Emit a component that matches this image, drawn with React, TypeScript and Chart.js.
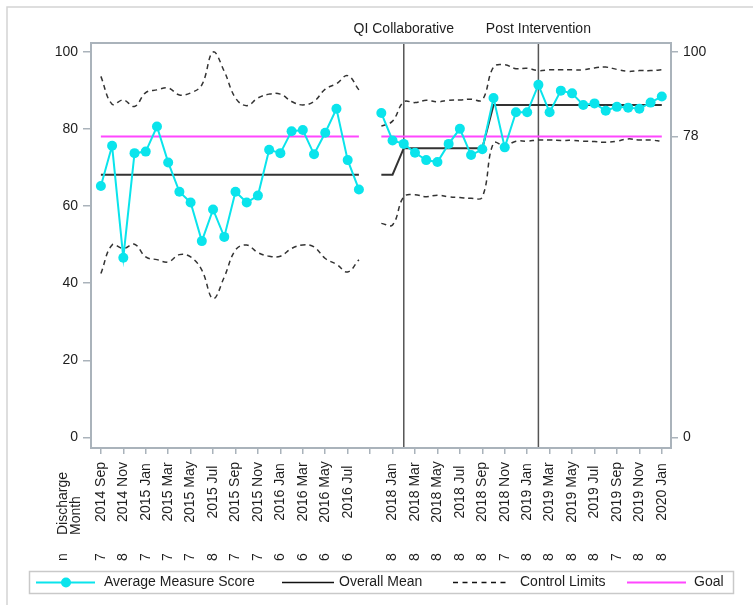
import { useEffect, useRef } from 'react';
import { Chart, registerables } from 'chart.js';

Chart.register(...registerables);

// ---------- data ----------
const categories: string[] = [
  '2014 Sep', '2014 Oct', '2014 Nov', '2014 Dec', '2015 Jan', '2015 Feb', '2015 Mar', '2015 Apr',
  '2015 May', '2015 Jun', '2015 Jul', '2015 Aug', '2015 Sep', '2015 Oct', '2015 Nov', '2015 Dec',
  '2016 Jan', '2016 Feb', '2016 Mar', '2016 Apr', '2016 May', '2016 Jun', '2016 Jul', '2016 Aug',
  '',
  '2017 Dec', '2018 Jan', '2018 Feb', '2018 Mar', '2018 Apr', '2018 May', '2018 Jun', '2018 Jul',
  '2018 Aug', '2018 Sep', '2018 Oct', '2018 Nov', '2018 Dec', '2019 Jan', '2019 Feb', '2019 Mar',
  '2019 Apr', '2019 May', '2019 Jun', '2019 Jul', '2019 Aug', '2019 Sep', '2019 Oct', '2019 Nov',
  '2019 Dec', '2020 Jan',
];

// n shown under every labelled (even-index) category
const nCounts: (number | null)[] = [
  7, 8, 7, 7, 7, 8, 7, 7, 6, 6, 6, 6,
  null,
  8, 8, 8, 8, 8, 7, 8, 8, 8, 8, 7, 8, 8,
];

const averageScore: (number | null)[] = [
  65.2, 75.6, 46.6, 73.7, 74.1, 80.6, 71.3, 63.7, 60.9, 50.9, 59.1, 52.0,
  63.7, 60.9, 62.7, 74.6, 73.7, 79.4, 79.7, 73.4, 79.0, 85.2, 71.9, 64.3,
  null,
  84.1, 77.0, 76.1, 73.8, 71.9, 71.4, 76.1, 80.0, 73.2, 74.7, 88.0, 75.2, 84.3,
  84.3, 91.4, 84.3, 89.9, 89.2, 86.2, 86.6, 84.7, 85.7, 85.5, 85.2, 86.8, 88.4,
];

const overallMean: (number | null)[] = [
  68.1, 68.1, 68.1, 68.1, 68.1, 68.1, 68.1, 68.1, 68.1, 68.1, 68.1, 68.1,
  68.1, 68.1, 68.1, 68.1, 68.1, 68.1, 68.1, 68.1, 68.1, 68.1, 68.1, 68.1,
  null,
  68.1, 68.1, 75.0, 75.0, 75.0, 75.0, 75.0, 75.0, 75.0, 75.0, 86.2, 86.2, 86.2,
  86.2, 86.2, 86.2, 86.2, 86.2, 86.2, 86.2, 86.2, 86.2, 86.2, 86.2, 86.2, 86.2,
];

const upperLimit: (number | null)[] = [
  93.6, 86.4, 87.5, 85.8, 89.4, 90.1, 90.6, 88.8, 89.3, 91.4, 99.9, 94.9,
  88.0, 86.0, 88.0, 89.0, 89.0, 87.1, 86.2, 87.1, 90.3, 91.7, 93.8, 90.1,
  null,
  80.7, 82.0, 87.0, 86.8, 87.4, 87.0, 87.4, 87.5, 87.7, 87.5, 96.0, 96.6, 95.6,
  95.7, 95.1, 95.3, 95.3, 95.3, 95.3, 95.8, 96.0, 95.4, 94.9, 95.1, 95.1, 95.3,
];

const lowerLimit: (number | null)[] = [
  42.5, 49.9, 49.0, 50.1, 46.8, 46.1, 45.5, 47.4, 46.8, 43.4, 36.0, 41.6,
  48.6, 49.9, 47.9, 47.0, 47.0, 49.0, 49.9, 49.4, 46.4, 44.9, 42.9, 46.1,
  null,
  55.5, 55.1, 62.4, 62.9, 62.4, 62.8, 62.4, 62.2, 62.0, 62.3, 76.3, 75.6, 76.8,
  76.8, 77.1, 77.1, 77.0, 77.0, 76.8, 76.7, 76.5, 76.8, 77.4, 77.1, 77.1, 76.8,
];

const goalValue = 78;
const goal: (number | null)[] = categories.map((c) => (c === '' ? null : goalValue));

const leftTicks = [0, 20, 40, 60, 80, 100];
const rightTicks = [0, 78, 100];

const phaseLines = [
  { label: 'QI Collaborative', index: 27 },
  { label: 'Post Intervention', index: 39 },
];

// ---------- styles ----------
const FONT = '"Liberation Sans", Arial, Helvetica, sans-serif';
const TEXT = '#1e1e1e';
const AXIS = '#aab3bb';
const CYAN = '#0ae4ec';
const MAGENTA = '#ff47ff';
const DARK = '#333333';

const toPoints = (arr: (number | null)[]) => arr.map((v, i) => ({ x: i, y: v }));

const overlayPlugin = {
  id: 'overlay',
  beforeDatasetsDraw(chart: any) {
    const { ctx, chartArea: a, scales } = chart;
    const x = scales.x;
    ctx.save();
    ctx.strokeStyle = '#555555';
    ctx.lineWidth = 1.5;
    phaseLines.forEach((p) => {
      const px = x.getPixelForValue(p.index);
      ctx.beginPath();
      ctx.moveTo(px, a.top);
      ctx.lineTo(px, a.bottom);
      ctx.stroke();
    });
    ctx.restore();
  },
  afterDraw(chart: any) {
    const { ctx, chartArea: a, scales } = chart;
    const x = scales.x;
    ctx.save();
    // outer figure frame
    ctx.strokeStyle = '#d4d4d4';
    ctx.lineWidth = 1.5;
    ctx.beginPath();
    ctx.moveTo(7, 605);
    ctx.lineTo(7, 7);
    ctx.lineTo(753, 7);
    ctx.stroke();

    // plot frame
    ctx.strokeStyle = AXIS;
    ctx.lineWidth = 2;
    ctx.strokeRect(a.left, a.top, a.right - a.left, a.bottom - a.top);

    ctx.fillStyle = TEXT;
    ctx.font = `14px ${FONT}`;

    // phase labels
    ctx.textAlign = 'center';
    ctx.textBaseline = 'middle';
    phaseLines.forEach((p) => {
      ctx.fillText(p.label, x.getPixelForValue(p.index), 29);
    });

    // rotated tick labels and n row
    let k = 0;
    for (let i = 0; i < categories.length; i += 2) {
      const px = x.getPixelForValue(i);
      const lab = categories[i];
      if (lab) {
        ctx.save();
        ctx.translate(px, 492);
        ctx.rotate(-Math.PI / 2);
        ctx.textAlign = 'center';
        ctx.textBaseline = 'middle';
        ctx.fillText(lab, 0, 0);
        ctx.restore();
      }
      const n = nCounts[k];
      if (n !== null && n !== undefined) {
        ctx.save();
        ctx.translate(px, 557);
        ctx.rotate(-Math.PI / 2);
        ctx.textAlign = 'center';
        ctx.textBaseline = 'middle';
        ctx.fillText(String(n), 0, 0);
        ctx.restore();
      }
      k++;
    }

    // axis title & n label
    const rot = (txt: string, cx: number, cy: number, align: CanvasTextAlign) => {
      ctx.save();
      ctx.translate(cx, cy);
      ctx.rotate(-Math.PI / 2);
      ctx.textAlign = align;
      ctx.textBaseline = 'middle';
      ctx.fillText(txt, 0, 0);
      ctx.restore();
    };
    rot('Discharge', 63, 535, 'left');
    rot('Month', 76, 535, 'left');
    rot('n', 63, 557, 'center');

    // legend
    ctx.strokeStyle = '#c9c9c9';
    ctx.lineWidth = 1.5;
    ctx.strokeRect(29.5, 571.5, 704, 22);
    const ly = 582.5;
    ctx.textAlign = 'left';
    ctx.textBaseline = 'middle';

    ctx.strokeStyle = CYAN;
    ctx.lineWidth = 2;
    ctx.beginPath();
    ctx.moveTo(36, ly);
    ctx.lineTo(95, ly);
    ctx.stroke();
    ctx.fillStyle = CYAN;
    ctx.beginPath();
    ctx.arc(66, ly, 5, 0, Math.PI * 2);
    ctx.fill();
    ctx.fillStyle = TEXT;
    ctx.fillText('Average Measure Score', 104, ly);

    ctx.strokeStyle = '#111111';
    ctx.lineWidth = 1.5;
    ctx.beginPath();
    ctx.moveTo(282, ly);
    ctx.lineTo(334, ly);
    ctx.stroke();
    ctx.fillText('Overall Mean', 339, ly);

    ctx.setLineDash([5, 4.5]);
    ctx.beginPath();
    ctx.moveTo(453, ly);
    ctx.lineTo(508, ly);
    ctx.stroke();
    ctx.setLineDash([]);
    ctx.fillText('Control Limits', 520, ly);

    ctx.strokeStyle = MAGENTA;
    ctx.lineWidth = 2;
    ctx.beginPath();
    ctx.moveTo(627, ly);
    ctx.lineTo(686, ly);
    ctx.stroke();
    ctx.fillText('Goal', 694, ly);

    ctx.restore();
  },
};

export default function App() {
  const ref = useRef<HTMLCanvasElement | null>(null);

  useEffect(() => {
    if (!ref.current) return;
    const Y_MIN = -2.72;
    const Y_MAX = 102.25;
    const chart = new Chart(ref.current, {
      type: 'line',
      data: {
        datasets: [
          {
            label: 'Average Measure Score',
            data: toPoints(averageScore),
            borderColor: CYAN,
            backgroundColor: CYAN,
            borderWidth: 2,
            pointRadius: 5,
            pointBorderWidth: 0,
            pointBackgroundColor: CYAN,
            tension: 0,
            spanGaps: false,
          },
          {
            label: 'Goal',
            data: toPoints(goal),
            borderColor: MAGENTA,
            borderWidth: 2,
            pointRadius: 0,
            tension: 0,
            spanGaps: false,
          },
          {
            label: 'Overall Mean',
            data: toPoints(overallMean),
            borderColor: DARK,
            borderWidth: 2,
            pointRadius: 0,
            tension: 0,
            spanGaps: false,
          },
          {
            label: 'Upper Control Limit',
            data: toPoints(upperLimit),
            borderColor: DARK,
            borderWidth: 1.5,
            borderDash: [5, 4],
            pointRadius: 0,
            tension: 0.4,
            spanGaps: false,
          },
          {
            label: 'Lower Control Limit',
            data: toPoints(lowerLimit),
            borderColor: DARK,
            borderWidth: 1.5,
            borderDash: [5, 4],
            pointRadius: 0,
            tension: 0.4,
            spanGaps: false,
          },
        ],
      },
      options: {
        responsive: false,
        animation: false,
        layout: { padding: { top: 43, left: 0, right: 0, bottom: 0 } },
        plugins: {
          legend: { display: false },
          tooltip: { enabled: false },
          title: { display: false },
        },
        scales: {
          x: {
            type: 'linear',
            min: -0.88,
            max: 50.82,
            afterBuildTicks: (axis: any) => {
              const t = [];
              for (let i = 0; i < categories.length; i += 2) t.push({ value: i });
              axis.ticks = t;
            },
            afterFit: (axis: any) => {
              axis.height = 157;
            },
            ticks: { callback: () => '', font: { size: 14, family: FONT } },
            grid: { drawOnChartArea: false, drawTicks: true, tickLength: 6, color: AXIS, lineWidth: 1.5 },
            border: { display: false },
          },
          y: {
            type: 'linear',
            position: 'left',
            min: Y_MIN,
            max: Y_MAX,
            afterBuildTicks: (axis: any) => {
              axis.ticks = leftTicks.map((v) => ({ value: v }));
            },
            afterFit: (axis: any) => {
              axis.width = 91;
            },
            ticks: { color: TEXT, padding: 5, font: { size: 14, family: FONT } },
            grid: { drawOnChartArea: false, drawTicks: true, tickLength: 8, color: AXIS, lineWidth: 1.5 },
            border: { display: false },
          },
          y2: {
            type: 'linear',
            position: 'right',
            min: Y_MIN,
            max: Y_MAX,
            afterBuildTicks: (axis: any) => {
              axis.ticks = rightTicks.map((v) => ({ value: v }));
            },
            afterFit: (axis: any) => {
              axis.width = 82;
            },
            ticks: { color: TEXT, padding: 5, font: { size: 14, family: FONT } },
            grid: { drawOnChartArea: false, drawTicks: true, tickLength: 7, color: AXIS, lineWidth: 1.5 },
            border: { display: false },
          },
        },
      },
      plugins: [overlayPlugin],
    } as any);
    return () => chart.destroy();
  }, []);

  return (
    <div style={{ position: 'absolute', left: 0, top: 0, width: 753, height: 605, background: '#ffffff' }}>
      <canvas ref={ref} width={753} height={605} style={{ display: 'block' }} />
    </div>
  );
}
